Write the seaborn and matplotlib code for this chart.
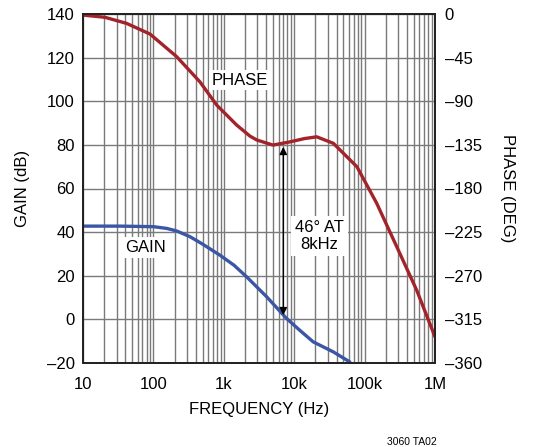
import matplotlib
matplotlib.use("Agg")
import matplotlib.pyplot as plt
import seaborn as sns

# ---- data ----
gain_freq = [10, 33.6, 100, 155, 215, 331, 500, 884, 1400, 2110, 4080, 7800, 12000,
             18600, 35900, 61600]
gain_db = [42.75, 42.75, 42.5, 41.7, 40.5, 37.9, 34.5, 29.4, 24.8, 19.5, 10.3, 0.4,
           -5.0, -10.3, -14.9, -19.5]

phase_freq = [10, 20.5, 41.7, 89.6, 214, 458, 794, 1520, 2357, 2950, 5000, 8700,
              14000, 20900, 36000, 77700, 148000, 286000, 550000, 1000000]
phase_deg = [-1.1, -3.4, -9.7, -20.7, -44, -70, -94, -114.5, -126, -130, -135.2, -131.9,
             -128.5, -126.7, -133.4, -157.5, -195, -240, -285, -333]

x_ticks = [10, 100, 1e3, 1e4, 1e5, 1e6]
x_ticklabels = ["10", "100", "1k", "10k", "100k", "1M"]
gain_ticks = [-20, 0, 20, 40, 60, 80, 100, 120, 140]
phase_ticks = [0, -45, -90, -135, -180, -225, -270, -315, -360]

sns.set_style("white")
plt.rcParams['font.family'] = ['Liberation Sans', 'DejaVu Sans']
plt.rcParams['axes.unicode_minus'] = False
plt.rcParams['text.color'] = 'black'
plt.rcParams['axes.labelcolor'] = 'black'

RED = "#A3232A"
BLUE = "#3A56A5"
GRID = "#7a7a7a"
FS = 12

fig = plt.figure(figsize=(5.35, 4.47), dpi=100)
ax = fig.add_axes([83/535, 1 - 363/447, (435-83)/535, (363-14)/447])
ax2 = ax.twinx()

ax.set_xscale("log")
ax.set_xlim(10, 1e6)
ax.set_ylim(-20, 140)
ax2.set_ylim(-360, 0)

ax.grid(True, which="both", axis="x", color=GRID, lw=1.0)
ax.grid(True, which="major", axis="y", color=GRID, lw=1.0)
ax.set_axisbelow(True)

sns.lineplot(x=gain_freq, y=gain_db, ax=ax, color=BLUE, lw=2.4)
sns.lineplot(x=phase_freq, y=phase_deg, ax=ax2, color=RED, lw=2.4)

ax.set_xticks(x_ticks)
ax.set_xticklabels(x_ticklabels)
ax.set_yticks(gain_ticks)
ax.set_yticklabels([str(t).replace("-", "\u2013") for t in gain_ticks])
ax2.set_yticks(phase_ticks)
ax2.set_yticklabels([str(t).replace("-", "\u2013") for t in phase_ticks])

for a in (ax, ax2):
    a.tick_params(axis="both", which="both", length=0, labelsize=FS, colors="black")
    for s in a.spines.values():
        s.set_color("#222222")
        s.set_linewidth(1.3)
ax.tick_params(axis="x", pad=10)
ax.tick_params(axis="y", pad=6)
ax2.tick_params(axis="y", pad=7)

ax.set_xlabel("FREQUENCY (Hz)", fontsize=FS, labelpad=7, color="black")
ax.set_ylabel("GAIN (dB)", fontsize=FS, labelpad=12, color="black")
ax2.set_ylabel("PHASE (DEG)", fontsize=FS, rotation=-90, labelpad=24, color="black")

bbox = dict(facecolor="white", edgecolor="none", pad=2)
ax.text(1700, 109.7, "PHASE", fontsize=FS, ha="center", va="center", bbox=bbox,
        color="black")
ax.text(78, 33, "GAIN", fontsize=FS, ha="center", va="center", bbox=bbox, color="black")

ax.annotate("", xy=(7000, 1.9), xytext=(7000, 79.1),
            arrowprops=dict(arrowstyle="<|-|>", color="black", lw=1.0,
                            mutation_scale=11, shrinkA=0, shrinkB=0))
ax.text(23000, 38.2, "46\u00b0 AT\n8kHz", fontsize=FS, ha="center", va="center",
        linespacing=1.15, color="black",
        bbox=dict(facecolor="white", edgecolor="none", pad=3))

fig.text(412/535, 1 - 442/447, "3060 TA02", fontsize=7.5, ha="center", va="center",
         color="black")

fig.savefig("out.png", dpi=100)
